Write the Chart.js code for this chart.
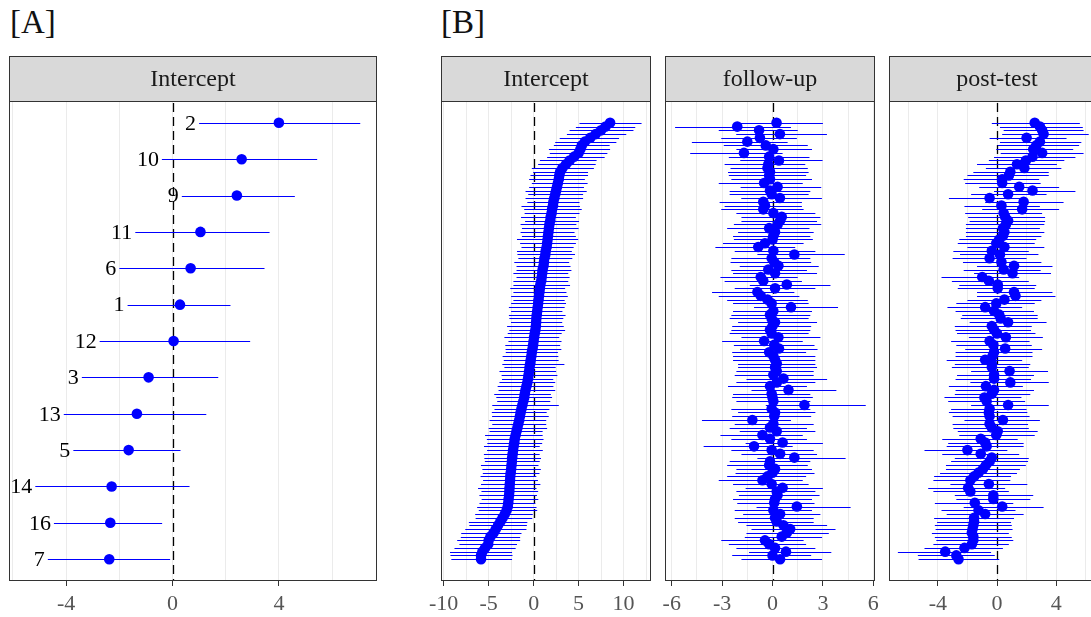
<!DOCTYPE html>
<html>
<head>
<meta charset="utf-8">
<script src="https://cdn.jsdelivr.net/npm/chart.js@4.4.1/dist/chart.umd.min.js"></script>
<style>
  html, body { margin: 0; padding: 0; background: #fff; overflow: hidden; }
  body { width: 1091px; height: 617px; position: relative; font-family: "Liberation Serif", serif; }
  .tag { position: absolute; top: 2px; font-size: 33px; line-height: 40px; color: #111; }
  .box { position: absolute; }
</style>
</head>
<body>
<div class="tag" style="left:10px">[A]</div>
<div class="tag" style="left:441px">[B]</div>

<script>
// ---- panel A: study intercepts (top to bottom) ----
const aStudy = ['2', '10', '9', '11', '6', '1', '12', '3', '13', '5', '14', '16', '7'];
const aEst  = [4.0, 2.6, 2.42, 1.05, 0.68, 0.28, 0.04, -0.9, -1.34, -1.65, -2.29, -2.34, -2.38];
const aLow  = [1.0, -0.4, 0.35, -1.4, -2.0, -1.69, -2.74, -3.41, -4.09, -3.73, -5.16, -4.46, -4.69];
const aHigh = [7.06, 5.44, 4.6, 3.65, 3.46, 2.18, 2.92, 1.72, 1.27, 0.3, 0.64, -0.39, -0.09];
const aGrid  = [-6, -4, -2, 0, 2, 4, 6];
const aTicks = [-4, 0, 4];

// ---- panel B: person level, ranked by intercept (top to bottom) ----
const bIntEst = [8.5, 8.0, 7.5, 6.9, 6.3, 5.7, 5.35, 5.2, 5.0, 4.5,
  4.0, 3.6, 3.2, 2.95, 2.85, 2.8, 2.7, 2.6, 2.5, 2.4,
  2.3, 2.2, 2.15, 2.05, 2.0, 1.9, 1.85, 1.75, 1.7, 1.65,
  1.6, 1.55, 1.5, 1.45, 1.35, 1.3, 1.2, 1.15, 1.1, 1.0,
  0.95, 0.9, 0.85, 0.75, 0.7, 0.65, 0.6, 0.55, 0.5, 0.45,
  0.4, 0.35, 0.3, 0.28, 0.25, 0.2, 0.12, 0.05, 0.0, -0.05,
  -0.12, -0.2, -0.25, -0.32, -0.38, -0.45, -0.5, -0.56, -0.62, -0.7,
  -0.8, -0.9, -0.98, -1.05, -1.15, -1.25, -1.35, -1.45, -1.52, -1.6,
  -1.7, -1.8, -1.9, -2.0, -2.1, -2.15, -2.22, -2.28, -2.33, -2.38,
  -2.42, -2.46, -2.5, -2.55, -2.6, -2.62, -2.65, -2.68, -2.7, -2.73,
  -2.78, -2.82, -2.88, -3.0, -3.2, -3.45, -3.7, -3.95, -4.2, -4.45,
  -4.8, -5.0, -5.05, -5.4, -5.7, -5.85, -5.85];
const bIntMinus = [3.4, 3.3, 3.5, 3.2, 3.4, 3.3, 3.1, 3.5, 3.2, 3.0,
  3.3, 3.1, 3.4, 3.0, 3.2, 3.3, 2.9, 3.1, 3.4, 3.0,
  3.2, 2.9, 3.5, 3.1, 3.0, 3.3, 2.8, 3.2, 3.0, 3.1,
  2.9, 3.4, 3.0, 2.8, 3.2, 3.1, 2.9, 3.3, 3.0, 2.9,
  3.2, 2.8, 3.1, 3.0, 3.3, 2.9, 3.1, 2.8, 3.0, 3.2,
  2.9, 3.1, 3.0, 2.8, 3.2, 2.9, 3.0, 3.3, 2.8, 3.1,
  3.0, 2.9, 3.2, 3.0, 3.1, 2.8, 3.3, 3.0, 2.9, 3.1,
  3.2, 3.0, 3.4, 3.1, 2.9, 3.35, 3.0, 3.2, 3.1, 3.3,
  2.9, 3.2, 3.0, 3.4, 3.1, 3.0, 3.3, 2.9, 3.2, 3.1,
  3.0, 3.4, 3.2, 3.1, 3.3, 3.0, 3.2, 3.5, 3.1, 3.3,
  3.0, 3.2, 3.4, 3.1, 3.3, 3.0, 3.5, 3.2, 3.4, 3.6,
  3.3, 3.5, 3.2, 3.4, 3.6, 3.4, 3.3];
const bIntPlus = [3.5, 3.3, 3.6, 3.4, 3.2, 3.5, 3.1, 3.3, 3.2, 3.4,
  3.0, 3.3, 3.5, 3.1, 3.2, 2.9, 3.3, 3.0, 3.4, 3.1,
  3.2, 2.9, 3.0, 3.3, 3.1, 2.8, 3.2, 3.0, 3.3, 2.9,
  3.1, 3.4, 3.2, 3.0, 2.9, 3.3, 3.1, 2.8, 3.0, 3.2,
  2.9, 3.1, 3.0, 3.3, 2.8, 3.0, 3.2, 2.9, 3.1, 3.0,
  2.8, 3.2, 3.0, 2.9, 3.1, 3.3, 3.0, 2.8, 3.1, 3.0,
  3.2, 2.9, 3.0, 3.1, 3.8, 2.9, 3.0, 3.2, 2.8, 3.1,
  3.0, 3.3, 2.9, 3.1, 3.0, 4.05, 3.1, 2.9, 3.2, 3.0,
  3.1, 3.3, 2.9, 3.0, 3.2, 3.1, 2.9, 3.3, 3.0, 3.2,
  3.1, 3.0, 3.3, 3.2, 2.9, 3.1, 3.4, 3.0, 3.2, 3.1,
  3.3, 3.0, 3.2, 3.4, 3.1, 3.3, 3.0, 3.2, 3.4, 3.1,
  3.3, 3.5, 3.2, 3.4, 3.3, 3.5, 3.45];

const bFuEst = [0.24, -2.1, -0.8, 0.44, -0.75, -1.5, -0.4, 0.05, -1.7, -0.2,
  0.38, -0.25, -0.3, -0.15, -0.2, -0.15, -0.5, 0.3, -0.15, -0.05,
  0.44, -0.55, -0.45, -0.55, 0.05, 0.55, 0.45, 0.3, -0.2, 0.15,
  0.05, 0, -0.45, -0.85, 0.05, 1.3, -0.05, 0.1, 0.35, -0.25,
  0.15, -0.7, -0.55, 0.85, 0.15, -0.9, -0.7, -0.3, -0.05, 1.1,
  0.05, -0.15, -0.05, 0.15, 0, -0.15, -0.05, 0.35, -0.5, 0.1,
  0.38, -0.2, 0.05, 0.15, 0.25, 0.15, 0.25, 0.05, 0.65, 0.25,
  -0.15, 0.95, -0.05, 0, 0.05, 1.9, -0.05, 0.15, 0.1, -1.2,
  0.05, -0.15, 0.25, -0.6, -0.15, 0.6, -1.1, -0.05, 0.45, 1.3,
  -0.15, -0.2, 0.15, 0, -0.3, -0.6, -0.05, 0.6, 0.25, 0.3,
  0.15, 0.1, 1.45, 0.05, 0.45, 0.15, 0.25, 0.65, 1.05, 0.85,
  0.55, -0.45, -0.2, 0.15, 0.8, 0, 0.45];
const bFuMinus = [2.5, 3.7, 2.4, 2.6, 2.3, 3.3, 2.5, 2.2, 3.2, 2.4,
  2.3, 2.6, 2.2, 2.5, 2.4, 2.3, 2.7, 2.2, 2.4, 2.5,
  2.3, 2.6, 2.4, 2.5, 2.2, 2.4, 2.3, 2.6, 2.5, 2.2,
  2.4, 2.3, 2.5, 2.55, 2.3, 2.2, 2.4, 2.6, 2.3, 2.2,
  2.5, 2.4, 2.3, 2.2, 2.4, 2.7, 2.5, 2.4, 2.3, 2.2,
  2.4, 2.3, 2.5, 2.2, 2.4, 2.3, 2.5, 2.2, 2.5, 2.4,
  2.3, 2.2, 2.4, 2.5, 2.3, 2.2, 2.4, 2.3, 2.2, 2.4,
  2.5, 2.2, 2.3, 2.4, 2.2, 2.3, 2.4, 2.2, 2.5, 3.0,
  2.3, 2.4, 2.2, 2.5, 2.3, 2.2, 3.0, 2.4, 2.3, 2.2,
  2.4, 2.5, 2.3, 2.2, 2.4, 2.6, 2.3, 2.2, 2.4, 2.3,
  2.5, 2.2, 2.4, 2.3, 2.2, 2.4, 2.3, 2.2, 2.3, 2.4,
  2.2, 2.6, 2.4, 2.3, 2.2, 2.4, 2.3];
const bFuPlus = [2.76, 3.2, 2.3, 2.8, 2.2, 2.4, 2.5, 2.3, 2.3, 2.4,
  2.6, 2.2, 2.4, 2.3, 2.2, 2.5, 2.3, 2.6, 2.4, 2.2,
  2.5, 2.3, 2.2, 2.4, 2.5, 2.3, 2.2, 2.6, 2.4, 2.3,
  2.2, 2.4, 2.3, 2.2, 2.5, 3.0, 2.3, 2.2, 2.4, 2.3,
  2.5, 2.2, 2.3, 2.6, 2.4, 2.2, 2.3, 2.4, 2.2, 2.8,
  2.3, 2.4, 2.2, 2.5, 2.3, 2.4, 2.2, 2.5, 2.3, 2.4,
  2.3, 2.2, 2.5, 2.4, 2.3, 2.5, 2.2, 2.4, 2.6, 2.3,
  2.2, 2.85, 2.3, 2.4, 2.2, 3.65, 2.3, 2.4, 2.2, 2.3,
  2.4, 2.2, 2.3, 2.4, 2.2, 2.4, 2.3, 2.5, 2.2, 3.05,
  2.4, 2.3, 2.2, 2.5, 2.3, 2.4, 2.2, 2.4, 2.3, 2.5,
  2.2, 2.4, 3.2, 2.3, 2.4, 2.3, 2.2, 2.6, 2.7, 2.5,
  2.4, 2.3, 2.2, 2.4, 2.7, 2.3, 2.5];

const bPtEst = [2.55, 2.9, 3.05, 3.15, 2.0, 2.9, 2.65, 2.45, 3.05, 2.4,
  1.95, 1.35, 1.85, 0.9, 0.8, 0.35, 0.35, 1.5, 2.4, 0.75,
  -0.5, 1.8, 0.3, 1.7, 0.45, 0.55, 0.75, 0.6, 0.4, 0.5,
  0.4, 0.15, -0.05, 0.5, -0.35, 0.2, -0.5, 0.3, 1.15, 0.45,
  1.05, -1.0, -0.55, 0.05, 0.05, 1.15, 1.25, 0.5, -0.05, -0.8,
  -0.2, 0.15, 0.25, 0.75, -0.35, -0.2, 0, 0.6, -0.5, -0.25,
  0.55, -0.2, -0.3, -0.8, -0.35, -0.35, 0.85, -0.2, -0.2, 0.9,
  -0.75, -0.2, -0.35, -0.85, -0.7, 0.75, -0.5, -0.55, -0.5, 0.4,
  -0.5, -0.35, 0.05, -0.05, -1.1, -0.8, -0.7, -2.0, -1.1, -0.35,
  -0.5, -0.75, -0.95, -1.25, -1.55, -1.8, -0.55, -1.95, -1.8, -0.25,
  -0.25, -1.5, 0.35, -1.25, -0.8, -1.55, -1.55, -1.6, -1.65, -1.7,
  -1.6, -1.6, -1.7, -2.2, -3.5, -2.75, -2.6];
const bPtMinus = [2.9, 2.7, 2.6, 2.8, 2.5, 2.7, 2.6, 2.5, 2.8, 2.6,
  2.5, 2.7, 2.6, 2.5, 2.8, 2.6, 2.5, 2.7, 2.6, 2.5,
  2.75, 2.6, 2.5, 2.7, 2.6, 2.5, 2.6, 2.7, 2.5, 2.6,
  2.5, 2.7, 2.6, 2.5, 2.6, 2.7, 2.5, 2.6, 2.5, 2.7,
  2.6, 2.75, 2.5, 2.6, 2.7, 2.5, 2.6, 2.5, 2.7, 2.55,
  2.6, 2.5, 2.7, 2.6, 2.5, 2.6, 2.7, 2.5, 2.6, 2.5,
  2.7, 2.6, 2.5, 2.6, 2.5, 2.7, 2.6, 2.5, 2.6, 2.7,
  2.5, 2.6, 2.5, 2.7, 2.6, 2.5, 2.6, 2.7, 2.5, 2.6,
  2.5, 2.6, 2.7, 2.5, 2.6, 2.5, 2.7, 2.9, 2.6, 2.5,
  2.6, 2.7, 2.5, 2.6, 2.7, 2.5, 2.6, 2.7, 2.5, 2.6,
  2.5, 2.7, 2.6, 2.5, 2.6, 2.7, 2.5, 2.6, 2.5, 2.7,
  2.6, 2.5, 2.6, 2.7, 3.2, 2.6, 2.7];
const bPtPlus = [3.05, 2.9, 2.8, 3.05, 2.7, 2.8, 2.9, 2.7, 2.8, 2.9,
  2.6, 2.7, 2.5, 2.6, 2.7, 2.5, 2.6, 2.7, 2.9, 2.6,
  2.5, 2.7, 2.6, 2.5, 2.6, 2.7, 2.5, 2.6, 2.5, 2.7,
  2.6, 2.5, 2.6, 2.7, 2.5, 2.6, 2.5, 2.7, 2.6, 2.5,
  2.6, 2.5, 2.7, 2.6, 2.5, 2.6, 2.7, 2.5, 2.6, 2.5,
  2.7, 2.6, 2.5, 2.6, 2.7, 2.5, 2.6, 2.5, 2.7, 2.6,
  2.5, 2.6, 2.7, 2.5, 2.6, 2.5, 2.6, 2.7, 2.5, 2.6,
  2.5, 2.7, 2.6, 2.5, 2.6, 2.75, 2.5, 2.6, 2.7, 2.5,
  2.6, 2.5, 2.7, 2.6, 2.5, 2.6, 2.5, 2.7, 2.6, 2.5,
  2.6, 2.7, 2.5, 2.6, 2.5, 2.7, 2.6, 2.5, 2.6, 2.7,
  2.5, 2.6, 2.8, 2.5, 2.6, 2.7, 2.5, 2.6, 2.7, 2.5,
  2.6, 2.7, 2.5, 2.6, 3.1, 2.6, 2.75];

const bIntGrid  = [-10, -7.5, -5, -2.5, 0, 2.5, 5, 7.5, 10, 12.5];
const bIntTicks = [-10, -5, 0, 5, 10];
const bFuGrid   = [-6, -4.5, -3, -1.5, 0, 1.5, 3, 4.5, 6];
const bFuTicks  = [-6, -3, 0, 3, 6];
const bPtGrid   = [-6, -4, -2, 0, 2, 4, 6];
const bPtTicks  = [-4, 0, 4];

const FONT = '"Liberation Serif", "Times New Roman", serif';
const PAD = 22;        // room for edge tick labels
const TOP = 50;        // canvas top in page
const STRIP = 45;      // strip header height
Chart.defaults.font.family = FONT;

// error bars, zero line, labels, strip and frame
const caterpillar = {
    id: 'caterpillar',
    beforeDatasetsDraw: function (chart, args, o) {
        var ctx = chart.ctx, a = chart.chartArea, x = chart.scales.x, y = chart.scales.y;
        ctx.save();
        ctx.beginPath();
        ctx.rect(a.left, a.top, a.right - a.left, a.bottom - a.top);
        ctx.clip();
        var x0 = Math.round(x.getPixelForValue(0)) + 0.5;
        ctx.strokeStyle = '#000';
        ctx.lineWidth = 1.3;
        ctx.setLineDash([9, 5]);
        ctx.beginPath();
        ctx.moveTo(x0, a.top + 2);
        ctx.lineTo(x0, a.bottom);
        ctx.stroke();
        ctx.setLineDash([]);
        ctx.strokeStyle = '#0000ff';
        ctx.lineWidth = 1;
        o.low.forEach(function (lo, i) {
            var py = Math.round(y.getPixelForValue(i + 1)) + 0.5;
            ctx.beginPath();
            ctx.moveTo(x.getPixelForValue(lo), py);
            ctx.lineTo(x.getPixelForValue(o.high[i]), py);
            ctx.stroke();
        });
        ctx.restore();
    },
    afterDatasetsDraw: function (chart, args, o) {
        if (!o.ids) return;
        var ctx = chart.ctx, x = chart.scales.x, y = chart.scales.y;
        ctx.save();
        ctx.fillStyle = '#000';
        ctx.font = '22px ' + FONT;
        ctx.textAlign = 'right';
        ctx.textBaseline = 'middle';
        o.ids.forEach(function (id, i) {
            ctx.fillText(id, x.getPixelForValue(o.low[i]) - 3, y.getPixelForValue(i + 1) + 1);
        });
        ctx.restore();
    },
    afterDraw: function (chart, args, o) {
        var ctx = chart.ctx, a = chart.chartArea;
        ctx.save();
        ctx.fillStyle = '#d9d9d9';
        ctx.fillRect(a.left, a.top - STRIP, a.right - a.left, STRIP);
        ctx.strokeStyle = '#333';
        ctx.lineWidth = 1;
        ctx.strokeRect(a.left + 0.5, a.top - STRIP + 0.5, a.right - a.left - 1, STRIP);
        ctx.strokeRect(a.left + 0.5, a.top + 0.5, a.right - a.left - 1, a.bottom - a.top - 1);
        ctx.fillStyle = '#1a1a1a';
        ctx.font = '24px ' + FONT;
        ctx.textAlign = 'center';
        ctx.textBaseline = 'middle';
        ctx.fillText(o.title, (a.left + a.right) / 2, a.top - STRIP / 2 + 1);
        ctx.restore();
    }
};

function makePanel(p) {
    var wrap = document.createElement('div');
    wrap.className = 'box';
    wrap.style.left = (p.left - PAD) + 'px';
    wrap.style.top = TOP + 'px';
    wrap.style.width = (p.right - p.left + 2 * PAD) + 'px';
    wrap.style.height = (617 - TOP) + 'px';
    var cv = document.createElement('canvas');
    wrap.appendChild(cv);
    document.body.appendChild(wrap);

    var n = p.est.length;
    var yMin = p.discrete ? 0.4 : 1 - 0.05 * (n - 1);
    var yMax = p.discrete ? n + 0.6 : n + 0.05 * (n - 1);

    return new Chart(cv, {
        type: 'scatter',
        data: {
            datasets: [{
                data: p.est.map(function (v, i) { return { x: v, y: i + 1 }; }),
                backgroundColor: '#0000ff',
                borderWidth: 0,
                pointRadius: 5.3,
                pointHoverRadius: 5.3
            }]
        },
        options: {
            responsive: true,
            maintainAspectRatio: false,
            animation: false,
            events: [],
            layout: { padding: { left: PAD, right: PAD, top: STRIP + 6, bottom: 0 } },
            plugins: {
                legend: { display: false },
                tooltip: { enabled: false },
                caterpillar: { low: p.low, high: p.high, ids: p.ids || null, title: p.title }
            },
            scales: {
                x: {
                    type: 'linear',
                    min: p.xMin,
                    max: p.xMax,
                    afterBuildTicks: function (s) { s.ticks = p.grid.map(function (v) { return { value: v }; }); },
                    afterFit: function (s) { s.height = 36; },
                    border: { display: false },
                    grid: {
                        color: '#ebebeb',
                        lineWidth: 1,
                        tickLength: 5,
                        tickColor: function (c) { return c.tick && p.ticks.indexOf(c.tick.value) >= 0 ? '#333' : 'rgba(0,0,0,0)'; }
                    },
                    ticks: {
                        autoSkip: false,
                        maxRotation: 0,
                        padding: 5,
                        color: '#555',
                        font: { family: FONT, size: 22 },
                        callback: function (v) { return p.ticks.indexOf(v) >= 0 ? String(v) : ''; }
                    }
                },
                y: { type: 'linear', display: false, reverse: true, min: yMin, max: yMax }
            }
        },
        plugins: [caterpillar]
    });
}

function bounds(est, err, sign) {
    return est.map(function (v, i) { return +(v + sign * err[i]).toFixed(2); });
}

makePanel({ title: 'Intercept', left: 9, right: 377, xMin: -6.15, xMax: 7.69,
    est: aEst, low: aLow, high: aHigh, ids: aStudy, discrete: true, grid: aGrid, ticks: aTicks });
makePanel({ title: 'Intercept', left: 441, right: 651, xMin: -10.3, xMax: 13.05,
    est: bIntEst, low: bounds(bIntEst, bIntMinus, -1), high: bounds(bIntEst, bIntPlus, 1),
    grid: bIntGrid, ticks: bIntTicks });
makePanel({ title: 'follow-up', left: 665, right: 875, xMin: -6.4, xMax: 6.1,
    est: bFuEst, low: bounds(bFuEst, bFuMinus, -1), high: bounds(bFuEst, bFuPlus, 1),
    grid: bFuGrid, ticks: bFuTicks });
makePanel({ title: 'post-test', left: 889, right: 1105, xMin: -7.3, xMax: 7.3,
    est: bPtEst, low: bounds(bPtEst, bPtMinus, -1), high: bounds(bPtEst, bPtPlus, 1),
    grid: bPtGrid, ticks: bPtTicks });
</script>
</body>
</html>
